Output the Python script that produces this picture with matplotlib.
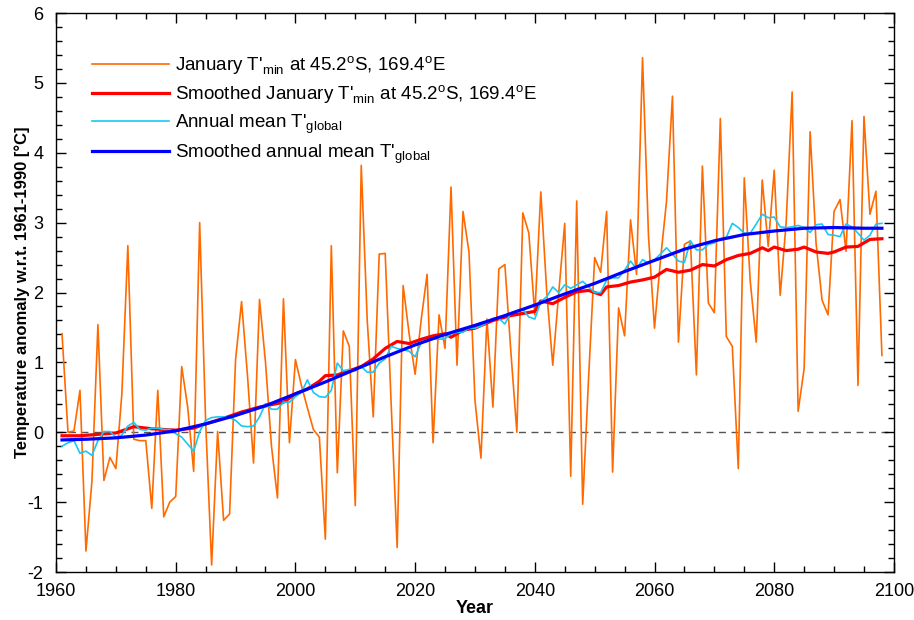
import numpy as np
import matplotlib
matplotlib.use("Agg")
import matplotlib.pyplot as plt
from matplotlib.ticker import MultipleLocator

plt.rcParams['font.family'] = ['Liberation Sans', 'DejaVu Sans']
plt.rcParams['mathtext.fontset'] = 'custom'
plt.rcParams['mathtext.rm'] = 'Liberation Sans'
plt.rcParams['axes.unicode_minus'] = False

# January Tmin anomaly at 45.2S, 169.4E (1961-2098)
years = list(range(1961, 2099))
jan_tmin = [
    1.41, 0.00, 0.02, 0.60, -1.70, -0.70, 1.54, -0.69, -0.36, -0.52,
    0.55, 2.67, -0.10, -0.12, -0.12, -1.09, 0.60, -1.21, -1.00, -0.92,
    0.94, 0.36, -0.56, 3.00, 0.15, -1.90, 0.01, -1.26, -1.17, 1.04,
    1.87, 0.80, -0.44, 1.90, 1.00, -0.20, -0.94, 1.91, -0.15, 1.04,
    0.67, 0.35, 0.04, -0.07, -1.53, 2.67, -0.58, 1.45, 1.23, -1.05,
    3.82, 1.60, 0.22, 2.55, 2.56, 0.40, -1.65, 2.10, 1.41, 0.83,
    1.60, 2.26, -0.15, 1.68, 1.20, 3.51, 0.96, 3.16, 2.58, 0.46,
    -0.37, 1.62, 0.36, 2.34, 2.40, 1.15, 0.00, 3.14, 2.85, 1.68,
    3.44, 2.00, 0.96, 2.00, 2.99, -0.63, 3.31, -1.03, 0.80, 2.50,
    2.29, 3.16, -0.57, 1.78, 1.38, 3.04, 2.26, 5.36, 2.80, 1.49,
    2.47, 3.30, 4.81, 1.29, 2.69, 2.74, 0.82, 3.81, 1.85, 1.71,
    4.49, 1.37, 1.23, -0.52, 3.64, 2.16, 1.29, 3.61, 2.66, 3.75,
    1.96, 3.00, 4.87, 0.30, 0.91, 4.30, 2.70, 1.89, 1.68, 3.16,
    3.33, 2.59, 4.46, 0.67, 4.52, 3.12, 3.45, 1.10,
]

# annual mean global anomaly
glob_annual = [
    -0.20, -0.15, -0.12, -0.30, -0.27, -0.33, -0.12, 0.01, 0.01, -0.07,
    -0.04, 0.09, 0.14, 0.04, 0.03, 0.06, 0.06, 0.04, 0.04, -0.02,
    -0.07, -0.17, -0.27, 0.01, 0.17, 0.21, 0.22, 0.22, 0.21, 0.17,
    0.09, 0.08, 0.09, 0.22, 0.41, 0.33, 0.33, 0.43, 0.43, 0.51,
    0.57, 0.75, 0.57, 0.51, 0.50, 0.60, 0.99, 0.88, 0.90, 0.88,
    0.94, 0.86, 0.86, 0.99, 1.05, 1.23, 1.20, 1.18, 1.16, 1.08,
    1.28, 1.30, 1.34, 1.33, 1.34, 1.41, 1.43, 1.43, 1.49, 1.49,
    1.52, 1.57, 1.63, 1.63, 1.55, 1.71, 1.74, 1.76, 1.65, 1.62,
    1.87, 1.94, 2.08, 2.00, 2.11, 2.06, 2.11, 2.16, 2.08, 2.00,
    2.00, 2.18, 2.21, 2.21, 2.32, 2.45, 2.34, 2.47, 2.42, 2.47,
    2.55, 2.64, 2.55, 2.45, 2.43, 2.74, 2.61, 2.61, 2.69, 2.71,
    2.77, 2.79, 2.99, 2.93, 2.85, 2.85, 2.98, 3.12, 3.07, 3.08,
    2.94, 2.93, 2.94, 2.96, 2.93, 2.86, 2.97, 2.98, 2.83, 2.82,
    2.80, 2.98, 2.94, 2.85, 2.75, 2.82, 2.98, 2.99,
]

# smoothed January Tmin (read at irregular years)
smooth_jan_years = [1961, 1964, 1967, 1970, 1973, 1976, 1980, 1983, 1985, 1988,
                    1991, 1994, 1998, 2000, 2002, 2004, 2005, 2007, 2009, 2011,
                    2013, 2015, 2017, 2019, 2021, 2023, 2025, 2026, 2028, 2030,
                    2033, 2036, 2038, 2040, 2041, 2043, 2045, 2047, 2049, 2051,
                    2052, 2054, 2056, 2058, 2060, 2062, 2064, 2066, 2068, 2070,
                    2072, 2074, 2076, 2078, 2079, 2080, 2082, 2084, 2085, 2087,
                    2089, 2090, 2092, 2094, 2096, 2098]
smooth_jan = [-0.05, -0.05, -0.03, -0.01, 0.08, 0.05, 0.03, 0.06, 0.12, 0.20,
              0.29, 0.36, 0.43, 0.55, 0.62, 0.73, 0.81, 0.82, 0.88, 0.94,
              1.05, 1.20, 1.30, 1.27, 1.33, 1.38, 1.41, 1.36, 1.46, 1.49,
              1.60, 1.67, 1.70, 1.73, 1.88, 1.84, 1.93, 2.01, 2.03, 1.97,
              2.08, 2.10, 2.15, 2.18, 2.22, 2.33, 2.29, 2.32, 2.40, 2.38,
              2.47, 2.53, 2.56, 2.64, 2.60, 2.65, 2.60, 2.62, 2.65, 2.58,
              2.56, 2.58, 2.65, 2.66, 2.76, 2.77]

# smoothed annual mean global
smooth_glob_years = [1961, 1965, 1970, 1975, 1980, 1985, 1990, 1995, 2000, 2005,
                     2010, 2015, 2020, 2025, 2030, 2035, 2040, 2045, 2050, 2055,
                     2060, 2065, 2070, 2075, 2080, 2085, 2090, 2095, 2098]
smooth_glob = [-0.11, -0.10, -0.08, -0.04, 0.02, 0.12, 0.24, 0.38, 0.55, 0.72,
               0.90, 1.08, 1.25, 1.40, 1.53, 1.67, 1.82, 1.98, 2.13, 2.30,
               2.46, 2.62, 2.74, 2.83, 2.88, 2.92, 2.93, 2.92, 2.92]

fig = plt.figure(figsize=(9.14, 6.2), dpi=100)
ax = fig.add_axes([0.0613, 0.0774, 0.9167, 0.9016])

ax.axhline(0, color='#555555', lw=1.0, ls=(0, (5, 4)), zorder=1)
ax.plot(years, jan_tmin, color='#FF6A00', lw=1.2,
        label="January T'$_{\\mathrm{min}}$ at 45.2$^{\\mathrm{o}}$S, 169.4$^{\\mathrm{o}}$E")
ax.plot(smooth_jan_years, smooth_jan, color='#FF0000', lw=2.3,
        label="Smoothed January T'$_{\\mathrm{min}}$ at 45.2$^{\\mathrm{o}}$S, 169.4$^{\\mathrm{o}}$E")
ax.plot(years, glob_annual, color='#18C8F5', lw=1.2,
        label="Annual mean T'$_{\\mathrm{global}}$")
ax.plot(smooth_glob_years, smooth_glob, color='#0000FF', lw=2.3,
        label="Smoothed annual mean T'$_{\\mathrm{global}}$")

ax.set_xlim(1960, 2100)
ax.set_ylim(-2, 6)
ax.xaxis.set_major_locator(MultipleLocator(20))
ax.xaxis.set_minor_locator(MultipleLocator(5))
ax.yaxis.set_major_locator(MultipleLocator(1))
ax.yaxis.set_minor_locator(MultipleLocator(0.2))
ax.tick_params(which='both', direction='in', top=True, right=True, labelsize=13)
ax.tick_params(axis='x', which='major', pad=8)
ax.tick_params(axis='y', which='major', pad=9)
ax.tick_params(which='major', length=7, width=1)
ax.tick_params(which='minor', length=4, width=1)
for s in ax.spines.values():
    s.set_linewidth(1.0)

ax.set_xlabel('Year', fontsize=13, fontweight='bold', labelpad=0)
ax.set_ylabel('Temperature anomaly w.r.t. 1961-1990 [\u00b0C]', fontsize=12,
              fontweight='bold', labelpad=-2)

ax.legend(loc='upper left', bbox_to_anchor=(0.034, 0.94), frameon=False,
          fontsize=13.5, handlelength=4.1, handletextpad=0.3, labelspacing=0.35,
          borderaxespad=0)

fig.savefig('out.png', dpi=100)
